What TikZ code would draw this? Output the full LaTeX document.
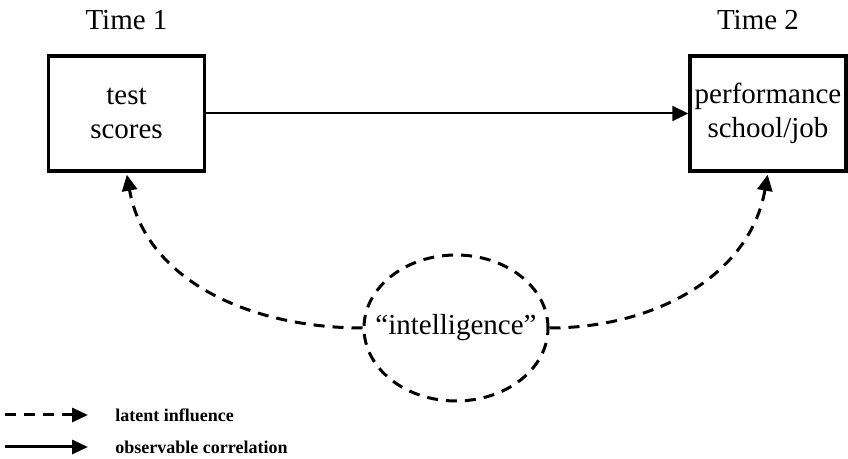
\documentclass[tikz,border=0pt]{standalone}
\usepackage{fontspec}
\setmainfont{Liberation Serif}
\usetikzlibrary{positioning, shapes.geometric, arrows.meta}

\begin{document}
\begin{tikzpicture}[
  x=0.5pt, y=0.5pt,
  box/.style={draw, line width=1.75pt, minimum width=78pt, minimum height=57.5pt, inner xsep=1.5pt, align=center, font=\fontsize{14.5}{17}\selectfont},
  timelabel/.style={font=\fontsize{14.5}{17}\selectfont},
  latent/.style={line width=1.5pt, dash pattern=on 5.5pt off 4pt},
  observed/.style={line width=1pt},
  tip/.style={-{Triangle[length=8pt, width=7.5pt]}},
  legendtip/.style={-{Triangle[length=8pt, width=7pt]}},
  legendtext/.style={font=\fontsize{9}{10}\selectfont\bfseries, anchor=west, inner sep=0pt}
]

\useasboundingbox (0,0) rectangle (848,459);

% Measured variables
\node[box] (scores) at (126.5,345.5) {test\\scores};
\node[box, right=241pt of scores] (perf) {performance\\school/job};

% Time labels
\node[timelabel] (time1) at ([yshift=17pt]scores.north) {Time 1};
\node[timelabel] (time2) at ([xshift=-5pt, yshift=17pt]perf.north) {Time 2};

% Latent variable
\node[latent, draw, ellipse, minimum width=92pt, minimum height=73pt, inner sep=0pt] (iq) at (456,131) {};
\node[timelabel] (iqtext) at (iq) {``intelligence''};

% Connections
\draw[observed, tip] (scores) -- (perf);
\draw[latent, tip, shorten >=1pt] (iq.west) to[out=180, in=-80] (scores.south);
\draw[latent, tip, shorten >=1pt] (iq.east) to[out=0, in=-100] (perf.south);

% Legend
\node[legendtext] (lattext) at (115,44) {latent influence};
\node[legendtext] (obstext) at (115,12) {observable correlation};
\coordinate (latstart) at (5,44);
\coordinate (obsstart) at (5,12);
\draw[latent, legendtip] (latstart) -- ([xshift=-13.5pt]lattext.west);
\draw[line width=1.5pt, legendtip] (obsstart) -- ([xshift=-13.5pt]obstext.west);

\end{tikzpicture}
\end{document}
